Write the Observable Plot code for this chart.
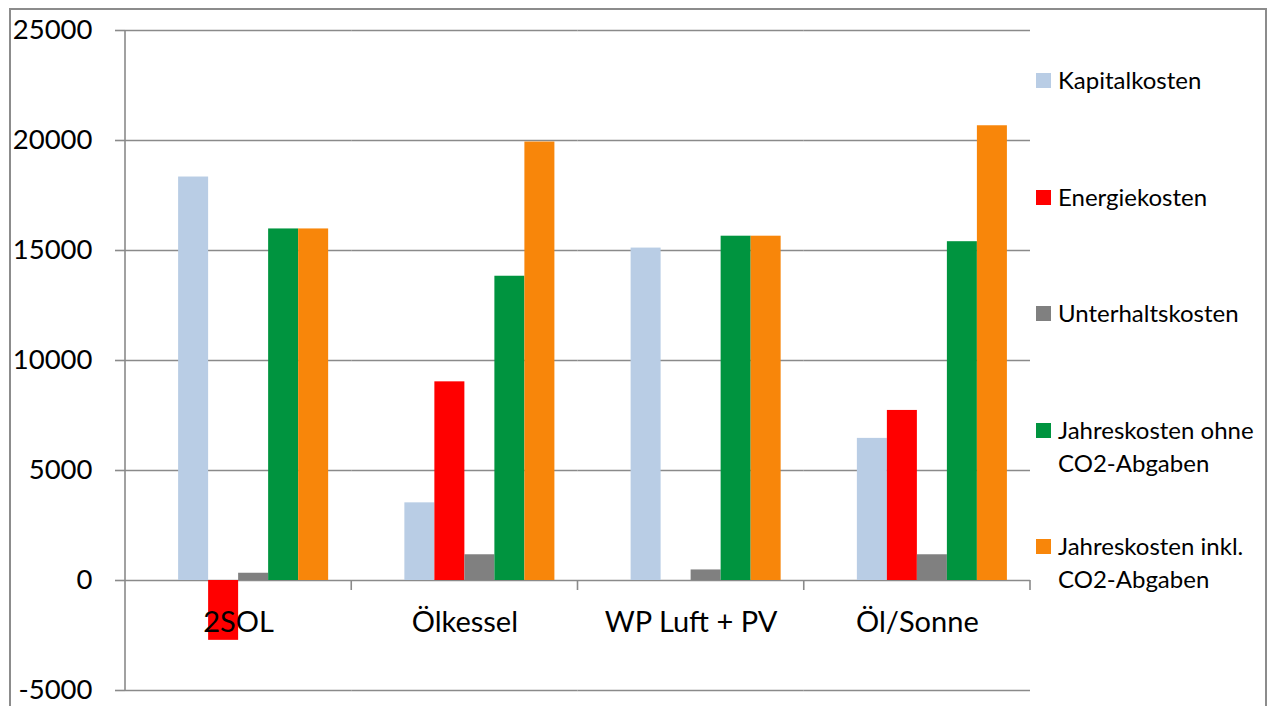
<!DOCTYPE html>
<html>
<head>
<meta charset="utf-8">
<script src="https://cdn.jsdelivr.net/npm/d3@7"></script>
<script src="https://cdn.jsdelivr.net/npm/@observablehq/plot@0.6"></script>
<style>
  html, body { margin: 0; padding: 0; background: #fff; }
  #wrap { position: relative; width: 1271px; height: 706px; overflow: hidden; font-family: Lato, sans-serif; }
  #frame { position: absolute; left: 9px; top: 8px; width: 1254px; height: 760px; border: 2px solid #8c8c8c; pointer-events: none; }
  .leg { position: absolute; left: 1036px; font-size: 24px; line-height: 33px; color: #000; }
  .leg .sw { position: absolute; left: 0; top: 10px; width: 15px; height: 15px; }
  .leg .tx { position: absolute; left: 22px; top: 0; white-space: nowrap; }
</style>
</head>
<body>
<div id="wrap"><div id="chart"></div><div id="legend"></div><div id="frame"></div></div>
<script>
const categories = ["2SOL", "Ölkessel", "WP Luft + PV", "Öl/Sonne"];
const series = ["Kapitalkosten", "Energiekosten", "Unterhaltskosten", "Jahreskosten ohne CO2-Abgaben", "Jahreskosten inkl. CO2-Abgaben"];
const legendLines = [["Kapitalkosten"], ["Energiekosten"], ["Unterhaltskosten"], ["Jahreskosten ohne", "CO2-Abgaben"], ["Jahreskosten inkl.", "CO2-Abgaben"]];
const kapitalkosten = [18340, 3530, 15110, 6460];
const energiekosten = [-2720, 9030, 0, 7730];
const unterhaltskosten = [330, 1170, 480, 1170];
const jahresOhne = [15980, 13830, 15650, 15400];
const jahresInkl = [15980, 19930, 15650, 20670];
const yTicks = [-5000, 0, 5000, 10000, 15000, 20000, 25000];
const colors = ["#B9CDE5", "#FF0000", "#808080", "#00943F", "#F8860A"];

const values = [kapitalkosten, energiekosten, unterhaltskosten, jahresOhne, jahresInkl];
const rows = [];
categories.forEach((c, i) => series.forEach((s, j) => rows.push({cat: c, series: s, value: values[j][i]})));

const plot = Plot.plot({
  width: 1271, height: 706,
  marginLeft: 125, marginRight: 241, marginTop: 30, marginBottom: 16,
  style: {fontFamily: "Lato, sans-serif", fontSize: "27px", color: "#000", background: "transparent", overflow: "visible"},
  fx: {domain: categories, padding: 0, round: false, axis: null},
  x: {domain: [" ", ...series], paddingInner: 0, paddingOuter: 0.77, round: false, axis: null},
  y: {domain: [-5000, 25000], axis: null},
  color: {domain: series, range: colors},
  marks: [
    Plot.ruleY(yTicks, {stroke: "#8a8a8a", strokeWidth: 1.6}),
    Plot.barY(rows, {fx: "cat", x: "series", y1: 0, y2: "value", fill: "series"}),
    Plot.text(categories, {fx: d => d, y: () => 0, text: d => d, dy: 42, fontSize: 29, fill: "#000"}),
    Plot.axisY(yTicks, {label: null, tickSize: 10, tickPadding: 23, stroke: "#8a8a8a", fill: "#000", fontSize: 27.5, tickFormat: d => String(d), strokeWidth: 1.6})
  ]
});
document.getElementById("chart").appendChild(plot);

// y-axis line and category boundary ticks
const y = plot.scale("y");
const fx = plot.scale("fx");
const svg = d3.select(plot);
const g = svg.append("g").attr("stroke", "#8a8a8a").attr("stroke-width", 1.6);
g.append("line").attr("x1", 125).attr("x2", 125).attr("y1", y.apply(25000)).attr("y2", y.apply(-5000));
categories.forEach(c => {
  const xr = fx.apply(c) + fx.bandwidth;
  g.append("line").attr("x1", xr).attr("x2", xr).attr("y1", y.apply(0)).attr("y2", y.apply(0) + 10);
});

// legend
const legTops = [63, 180, 296, 413, 529];
const leg = document.getElementById("legend");
legendLines.forEach((lines, i) => {
  const d = document.createElement("div");
  d.className = "leg";
  d.style.top = legTops[i] + "px";
  d.innerHTML = `<div class="sw" style="background:${colors[i]}"></div><div class="tx">${lines.join("<br>")}</div>`;
  leg.appendChild(d);
});
</script>
</body>
</html>
